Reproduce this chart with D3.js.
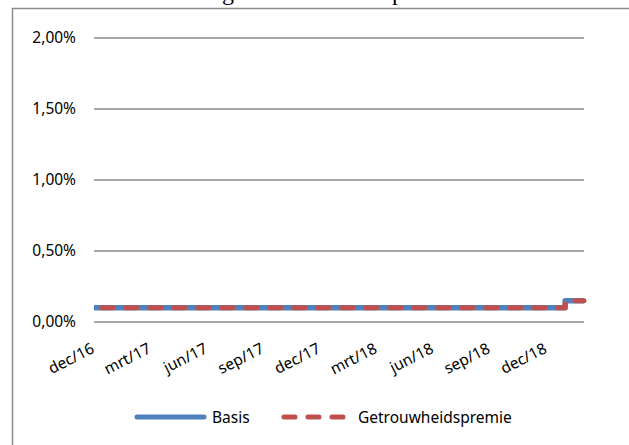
<!DOCTYPE html>
<html>
<head>
<meta charset="utf-8">
<script src="https://cdn.jsdelivr.net/npm/d3@7"></script>
<style>
  body { margin: 0; background: #fff; }
  svg { display: block; }
</style>
</head>
<body>
<div id="chart"></div>
<script>
// months on the x axis (Excel style labels)
const months = [
  "dec/16", "jan/17", "feb/17", "mrt/17", "apr/17", "mei/17", "jun/17",
  "jul/17", "aug/17", "sep/17", "okt/17", "nov/17", "dec/17", "jan/18",
  "feb/18", "mrt/18", "apr/18", "mei/18", "jun/18", "jul/18", "aug/18",
  "sep/18", "okt/18", "nov/18", "dec/18", "jan/19", "feb/19"
];
// rates in percent
const basis = [
  0.10, 0.10, 0.10, 0.10, 0.10, 0.10, 0.10, 0.10, 0.10, 0.10, 0.10, 0.10, 0.10,
  0.10, 0.10, 0.10, 0.10, 0.10, 0.10, 0.10, 0.10, 0.10, 0.10, 0.10, 0.10,
  0.15, 0.15
];
const getrouwheid = [
  0.10, 0.10, 0.10, 0.10, 0.10, 0.10, 0.10, 0.10, 0.10, 0.10, 0.10, 0.10, 0.10,
  0.10, 0.10, 0.10, 0.10, 0.10, 0.10, 0.10, 0.10, 0.10, 0.10, 0.10, 0.10,
  0.15, 0.15
];
const yTicks = [0, 0.5, 1.0, 1.5, 2.0];
const tickLabels = ["dec/16", "mrt/17", "jun/17", "sep/17", "dec/17", "mrt/18", "jun/18", "sep/18", "dec/18"];
const seriesNames = ["Basis", "Getrouwheidspremie"];

const width = 629, height = 445;
const font = "'Noto Sans', sans-serif";

const svg = d3.select("#chart")
  .append("svg")
  .attr("width", width)
  .attr("height", height);

// title, mostly cut off above the frame
const title = svg.append("text")
  .attr("x", 120)
  .attr("y", 0)
  .style("font-family", "'Liberation Serif', 'Times New Roman', serif")
  .style("font-size", "24px")
  .text("Ontwikkeling van de rente en premie");
// shift so the "g" descender sits where the reference shows it
const gPos = title.node().getStartPositionOfChar(11).x;
title.attr("x", 120 + (222 - gPos));

// chart frame (runs off the right and bottom edges)
svg.append("rect")
  .attr("x", 12.5)
  .attr("y", 8.5)
  .attr("width", 640)
  .attr("height", 460)
  .attr("fill", "#fff")
  .attr("stroke", "#8c8c8c")
  .attr("stroke-width", 1.5);

// === Scales ===
const x = d3.scalePoint()
  .domain(months)
  .range([94, 584]);

const y = d3.scaleLinear()
  .domain([0, 2])
  .range([322, 38]);

// === Gridlines ===
svg.append("g")
  .selectAll("line")
  .data(yTicks)
  .join("line")
  .attr("x1", 94)
  .attr("x2", 584)
  .attr("y1", d => y(d))
  .attr("y2", d => y(d))
  .attr("stroke", "#8a8a8a")
  .attr("stroke-width", 1.5);

// === Y axis ===
const yAxis = svg.append("g")
  .attr("transform", "translate(76,0)")
  .call(d3.axisLeft(y)
    .tickValues(yTicks)
    .tickSize(0)
    .tickPadding(0)
    .tickFormat(d => d3.format(".2f")(d).replace(".", ",") + "%"));
yAxis.select(".domain").remove();
yAxis.selectAll("text")
  .style("font-family", font)
  .style("font-size", "15.5px")
  .attr("fill", "#000");

// === X axis ===
const xAxis = svg.append("g")
  .attr("transform", "translate(0,322)")
  .call(d3.axisBottom(x).tickValues(tickLabels).tickSize(0));
xAxis.select(".domain").remove();
xAxis.selectAll("text")
  .style("font-family", font)
  .style("font-size", "15.5px")
  .attr("fill", "#000")
  .attr("text-anchor", "end")
  .attr("dy", 0)
  .attr("y", 0)
  .attr("transform", "translate(1,30) rotate(-27)");

// === Lines ===
const line = d3.line()
  .x((d, i) => x(months[i]))
  .y(d => y(d))
  .curve(d3.curveStepAfter);

svg.append("path")
  .datum(basis)
  .attr("d", line)
  .attr("fill", "none")
  .attr("stroke", "#4f81bd")
  .attr("stroke-width", 5.5)
  .attr("stroke-linejoin", "round")
  .attr("stroke-linecap", "butt");

svg.append("path")
  .datum(getrouwheid)
  .attr("d", line)
  .attr("fill", "none")
  .attr("stroke", "#c0504d")
  .attr("stroke-width", 5)
  .attr("stroke-linejoin", "round")
  .attr("stroke-linecap", "round")
  .attr("stroke-dasharray", "11,13")
  .attr("stroke-dashoffset", -8);

// === Legend ===
const legend = svg.append("g");
legend.append("line")
  .attr("x1", 137).attr("x2", 204)
  .attr("y1", 417).attr("y2", 417)
  .attr("stroke", "#4f81bd")
  .attr("stroke-width", 5)
  .attr("stroke-linecap", "round");
legend.append("line")
  .attr("x1", 284).attr("x2", 344)
  .attr("y1", 417).attr("y2", 417)
  .attr("stroke", "#c0504d")
  .attr("stroke-width", 5)
  .attr("stroke-linecap", "round")
  .attr("stroke-dasharray", "11,13");
legend.selectAll("text")
  .data(seriesNames)
  .join("text")
  .attr("x", (d, i) => i === 0 ? 212 : 358)
  .attr("y", 423)
  .style("font-family", font)
  .style("font-size", "15.5px")
  .text(d => d);
</script>
</body>
</html>
